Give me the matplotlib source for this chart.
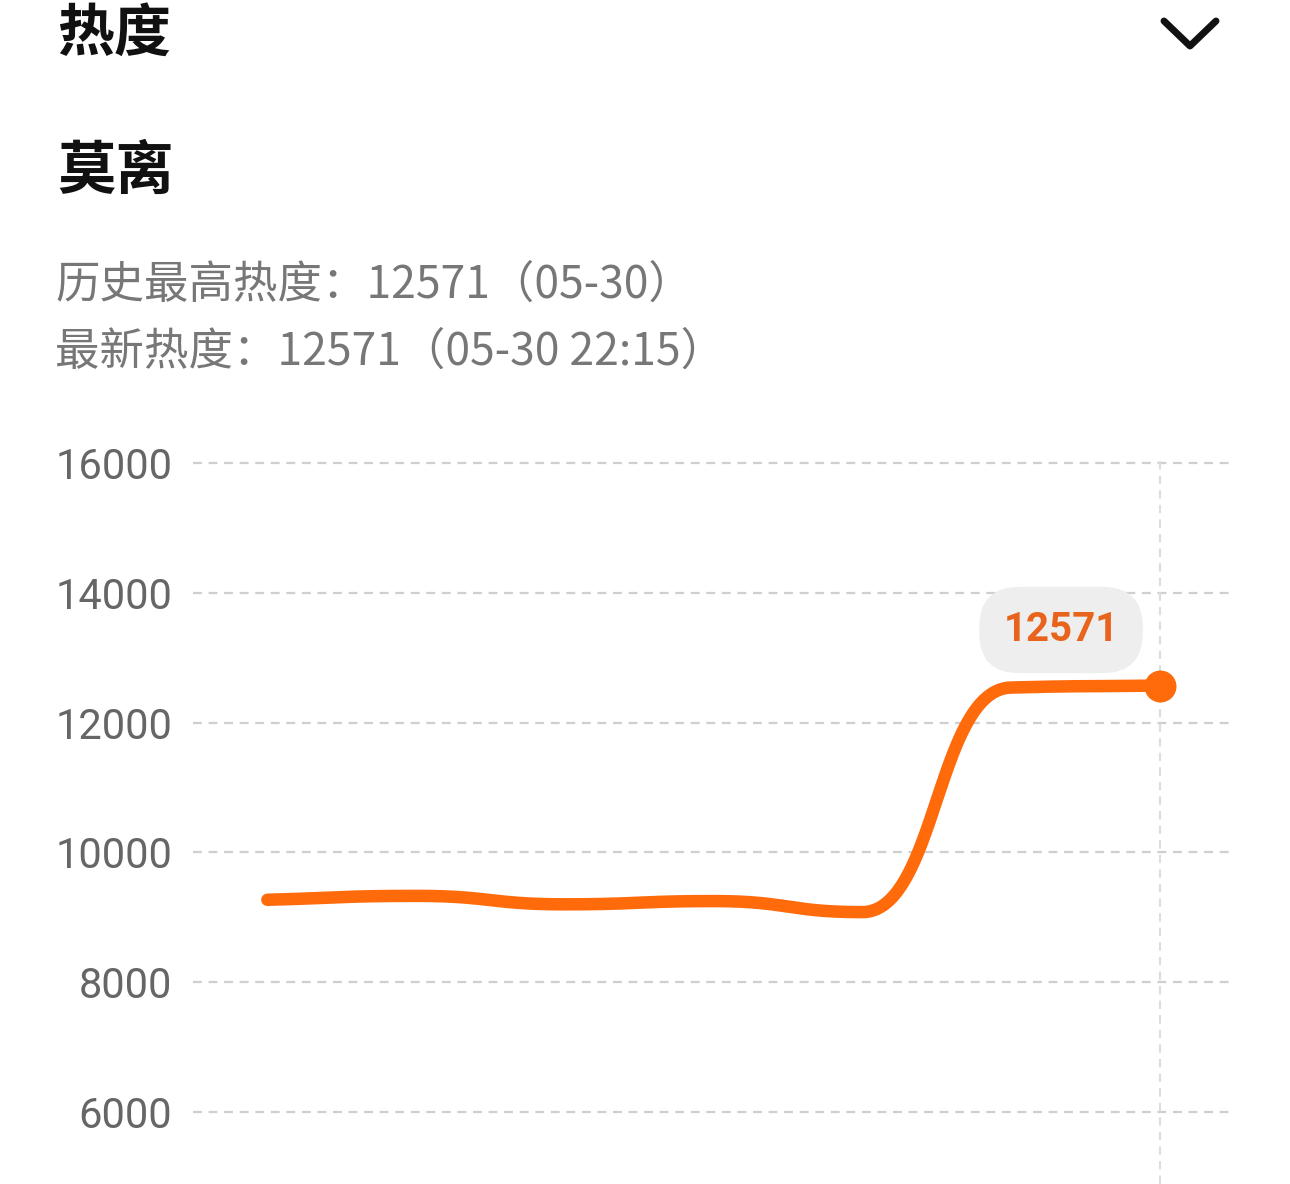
import numpy as np
import matplotlib
matplotlib.use("Agg")
import matplotlib.pyplot as plt
from matplotlib.lines import Line2D

plt.rcParams['font.family'] = ['Noto Sans CJK SC', 'DejaVu Sans']

# data
times = ["05-30 10:15", "05-30 12:15", "05-30 14:15", "05-30 16:15",
         "05-30 18:15", "05-30 20:15", "05-30 22:15"]
heat = [9270, 9330, 9200, 9250, 9080, 12540, 12571]
yticks = [6000, 8000, 10000, 12000, 14000, 16000]
title = "热度"
name = "莫离"
info1 = "历史最高热度：12571（05-30）"
info2 = "最新热度：12571（05-30 22:15）"

W, H = 1290, 1184
orange = "#ff6a0a"


def smooth_line(x, y, a=0.5, n=80):
    # bezier segments with monotone tangents, only for drawing the curve
    x = np.asarray(x, float)
    y = np.asarray(y, float)
    h = np.diff(x)
    d = np.diff(y) / h
    m = np.zeros_like(y)
    m[0], m[-1] = d[0], d[-1]
    for i in range(1, len(x) - 1):
        if d[i - 1] * d[i] > 0:
            m[i] = 2 / (1 / d[i - 1] + 1 / d[i])
    t = np.linspace(0, 1, n)
    bx, by = [], []
    for i in range(len(x) - 1):
        p0 = np.array([x[i], y[i]])
        p3 = np.array([x[i + 1], y[i + 1]])
        p1 = p0 + a * h[i] * np.array([1, m[i]])
        p2 = p3 - a * h[i] * np.array([1, m[i + 1]])
        b = ((1 - t) ** 3)[:, None] * p0 + (3 * (1 - t) ** 2 * t)[:, None] * p1 \
            + (3 * (1 - t) * t ** 2)[:, None] * p2 + (t ** 3)[:, None] * p3
        bx.append(b[:, 0])
        by.append(b[:, 1])
    return np.concatenate(bx), np.concatenate(by)


fig = plt.figure(figsize=(W / 100, H / 100), dpi=100)

# header texts
fig.text(57 / W, 1 - 34 / H, title, fontsize=41, fontweight='bold',
         color='#111111', va='center', ha='left')
fig.text(57 / W, 1 - 172 / H, name, fontsize=42, fontweight='bold',
         color='#111111', va='center', ha='left')
fig.text(55 / W, 1 - 285 / H, info1, fontsize=32, color='#777777',
         va='center', ha='left')
fig.text(55 / W, 1 - 352 / H, info2, fontsize=32, color='#777777',
         va='center', ha='left')

# chevron
fig.add_artist(Line2D([1164 / W, 1190 / W, 1216 / W],
                      [1 - 21 / H, 1 - 46 / H, 1 - 21 / H],
                      transform=fig.transFigure, color='#111111', lw=5,
                      solid_capstyle='round', solid_joinstyle='round'))

# chart
top_px = 455
ppu = 64.9 / 1000
ymax = 16000 + (463 - top_px) / ppu
ymin = 16000 - (H - 463) / ppu
ax = fig.add_axes([193 / W, 0, (1234 - 193) / W, 1 - top_px / H])
ax.set_xlim(-0.5, len(times) - 0.5)
ax.set_ylim(ymin, ymax)

for s in ax.spines.values():
    s.set_visible(False)
ax.set_yticks(yticks)
ax.set_yticklabels([str(v) for v in yticks], family='Roboto', fontsize=30,
                   color='#666666')
ax.tick_params(axis='y', length=0, pad=15)
ax.set_xticks([])
ax.yaxis.grid(True, color='#cfcfcf', lw=1.6, dashes=(4, 3))
ax.axvline(len(times) - 1, color='#dddddd', lw=1.5, dashes=(4, 3))

tx, ty = smooth_line(np.arange(len(times)), heat)
ax.plot(tx, ty, color=orange, lw=9, solid_capstyle='round')
ax.plot(len(times) - 1, heat[-1], 'o', color=orange, ms=22)

ax.annotate(str(heat[-1]), xy=(len(times) - 1, heat[-1]),
            xytext=(-71, 40), textcoords='offset points',
            ha='center', va='center', family='Roboto', fontweight='bold',
            fontsize=29, color='#e8641c',
            bbox=dict(boxstyle='round,pad=0.6,rounding_size=1.0',
                      fc='#eeeeee', ec='none'))

fig.savefig("out.png", dpi=100)
